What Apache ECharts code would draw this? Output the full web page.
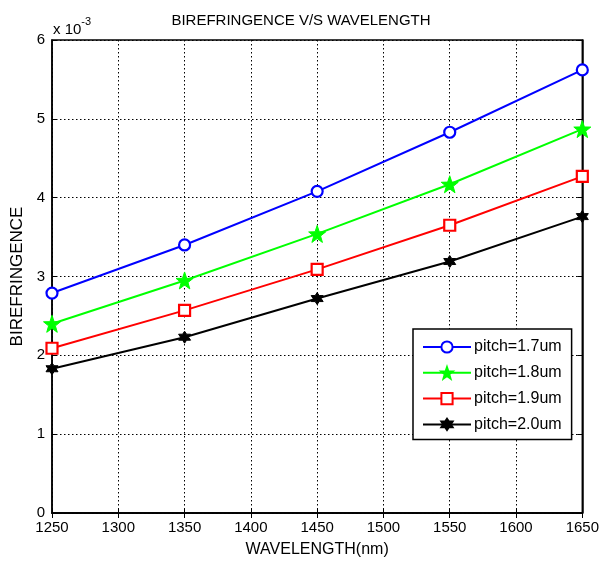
<!DOCTYPE html>
<html><head><meta charset="utf-8">
<script src="https://cdn.jsdelivr.net/npm/echarts@6/dist/echarts.min.js"></script>
<style>html,body{margin:0;padding:0;background:#fff}#c{width:602px;height:563px}</style>
</head><body><div id="c"></div>
<script>
var wavelengths = [1250, 1350, 1450, 1550, 1650];
var pitch17 = [2.79, 3.40, 4.08, 4.83, 5.62];
var pitch18 = [2.40, 2.95, 3.54, 4.17, 4.87];
var pitch19 = [2.09, 2.57, 3.09, 3.65, 4.27];
var pitch20 = [1.83, 2.23, 2.72, 3.19, 3.76];
var seriesNames = ['pitch=1.7um', 'pitch=1.8um', 'pitch=1.9um', 'pitch=2.0um'];
var xTicks = [1250, 1300, 1350, 1400, 1450, 1500, 1550, 1600, 1650];
var yTicks = [0, 1, 2, 3, 4, 5, 6];

function starPath(n, inner) {
  var pts = [];
  for (var i = 0; i < 2 * n; i++) {
    var r = i % 2 === 0 ? 1 : inner;
    var a = -Math.PI / 2 + i * Math.PI / n;
    pts.push((50 + 50 * r * Math.cos(a)).toFixed(2) + ' ' + (50 + 50 * r * Math.sin(a)).toFixed(2));
  }
  return 'path://M' + pts.join(' L') + ' Z';
}
var star5 = starPath(5, 0.4);
var star6 = starPath(6, 0.58);

function pairs(vals) { return wavelengths.map(function (w, i) { return [w, vals[i]]; }); }

var font = 'Liberation Sans, Arial, sans-serif';
var chart = echarts.init(document.getElementById('c'));
var axisCommon = {
  axisLine: { show: true, lineStyle: { color: '#000', width: 1.5 } },
  axisTick: { show: true, inside: true, length: 5, lineStyle: { color: '#000' } },
  axisLabel: { color: '#000', fontSize: 15, fontFamily: font },
  splitLine: { show: false }
};
function mk(vals, color, symbol, size, filled) {
  return {
    type: 'line', data: pairs(vals),
    symbol: symbol, symbolSize: size,
    lineStyle: { color: color, width: 2 },
    itemStyle: { color: filled ? color : '#fff', borderColor: color, borderWidth: filled ? 1 : 2.2 },
    color: color
  };
}
var s = [
  mk(pitch17, '#0000ff', 'circle', 11, false),
  mk(pitch18, '#00ff00', star5, 17, true),
  mk(pitch19, '#ff0000', 'rect', 11, false),
  mk(pitch20, '#000000', star6, 12, true)
];
s.forEach(function (x, i) { x.name = seriesNames[i]; x.z = 5 - i; });

chart.setOption({
  animation: false,
  backgroundColor: '#fff',
  title: {
    text: 'BIREFRINGENCE V/S WAVELENGTH', left: 'center', top: 8,
    textStyle: { fontSize: 15, fontWeight: 'normal', color: '#000', fontFamily: font }
  },
  graphic: [{
    type: 'text', left: 53, top: 16,
    style: {
      text: '{a|x 10}{b|-3}', fill: '#000',
      rich: {
        a: { fontSize: 15, fontFamily: font, fill: '#000', verticalAlign: 'bottom' },
        b: { fontSize: 11, fontFamily: font, fill: '#000', verticalAlign: 'top', padding: [0, 0, 10, 0] }
      }
    }
  }],
  grid: { left: 52, right: 18, top: 40, bottom: 48, show: true, borderColor: '#000', borderWidth: 1.5 },
  legend: {
    orient: 'vertical', left: 413, top: 329,
    padding: [10, 10, 7, 9], itemGap: 9.8, itemWidth: 48, itemHeight: 14,
    backgroundColor: '#fff', borderColor: '#000', borderWidth: 1.5,
    textStyle: { fontSize: 16, color: '#000', fontFamily: font, padding: [0, 0, 0, -2] },
    data: seriesNames
  },
  xAxis: [
    Object.assign({}, axisCommon, {
      type: 'value', min: 1250, max: 1650, interval: 50,
      name: 'WAVELENGTH(nm)', nameLocation: 'middle', nameGap: 29,
      nameTextStyle: { fontSize: 16, color: '#000', fontFamily: font },
      axisLabel: Object.assign({}, axisCommon.axisLabel, { margin: 7, formatter: function (v) { return xTicks.indexOf(v) >= 0 ? String(v) : ''; } }),
      splitLine: { show: true, lineStyle: { color: '#000', type: [1.5, 2.5], width: 1 } }
    }),
    Object.assign({}, axisCommon, { type: 'value', position: 'top', min: 1250, max: 1650, interval: 50, axisLabel: { show: false } })
  ],
  yAxis: [
    Object.assign({}, axisCommon, {
      type: 'value', min: 0, max: 6, interval: 1,
      name: 'BIREFRINGENCE', nameLocation: 'middle', nameGap: 25,
      nameTextStyle: { fontSize: 17, color: '#000', fontFamily: font },
      axisLabel: Object.assign({}, axisCommon.axisLabel, { margin: 7, formatter: function (v) { return yTicks.indexOf(v) >= 0 ? String(v) : ''; } }),
      splitLine: { show: true, lineStyle: { color: '#000', type: [1.5, 2.5], width: 1 } }
    }),
    Object.assign({}, axisCommon, { type: 'value', position: 'right', min: 0, max: 6, interval: 1, axisLabel: { show: false } })
  ],
  series: s
});
</script></body></html>
